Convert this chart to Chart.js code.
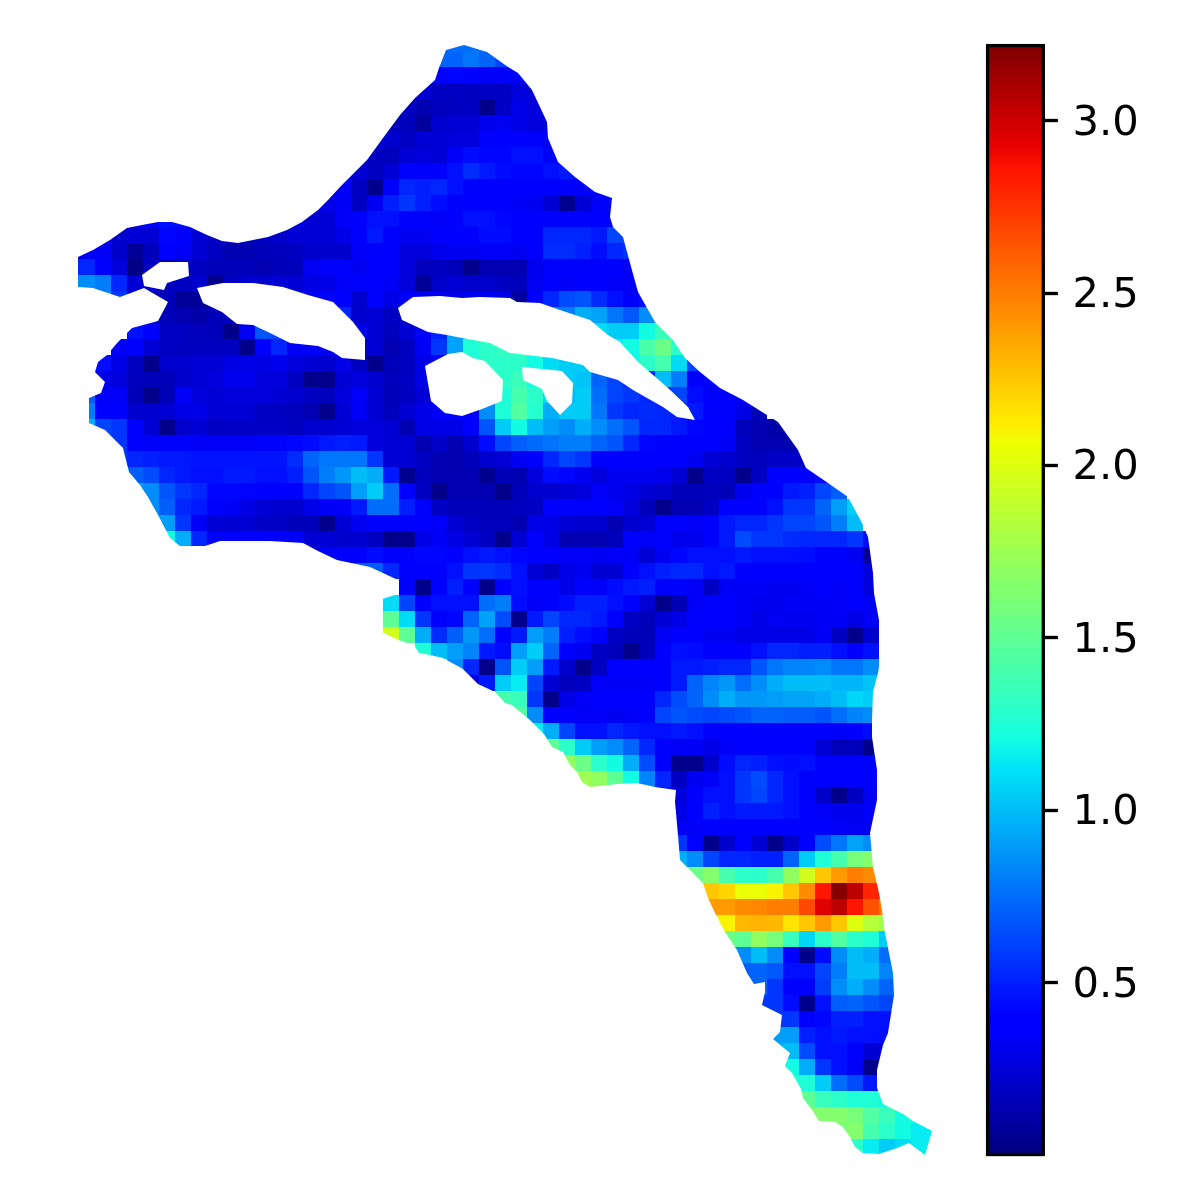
<!DOCTYPE html>
<html>
<head>
<meta charset="utf-8">
<title>Heat map</title>
<script src="https://cdn.jsdelivr.net/npm/chart.js@4"></script>
<style>
    html, body { margin: 0; background: #fff; }
    canvas { position: absolute; top: 0; }
    #map { left: 0; }
    #colorbar { left: 960px; }
</style>
</head>
<body>
<canvas id="map" width="1200" height="1200"></canvas>
<canvas id="colorbar" width="240" height="1200"></canvas>
<script>
// value range of the colour bar and its ticks
const valueMin = 0.002
const valueMax = 3.218
const tickValues = [0.5, 1.0, 1.5, 2.0, 2.5, 3.0]

// first column of every row of cells
const rowStart = [26,26,25,24,24,23,22,21,20,19,18,5,4,3,3,3,4,8,7,6,5,4,4,4,4,5,5,6,7,8,8,9,17,21,24,23,23,23,25,27,28,30,31,32,33,34,35,39,41,41,41,41,41,43,43,43,44,44,44,45,46,47,46,46,46,47,48,49,50,52]

// cell values, row by row from the top
const rowValues = [
    [.75,.75,.75,.75,.7,.6],
    [.72,.72,.78,.72,.62,.44,.34],
    [.34,.39,.42,.4,.34,.37,.34,.24,.24],
    [.24,.24,.19,.19,.18,.19,.19,.26,.24,.29,.29],
    [.19,.14,.17,.18,.19,.03,.2,.29,.26,.26,.24],
    [.17,.17,.08,.22,.24,.24,.31,.32,.29,.26,.26,.29],
    [.24,.22,.19,.24,.24,.26,.26,.37,.4,.4,.4,.34,.34],
    [.24,.19,.17,.24,.26,.24,.34,.44,.42,.42,.45,.45,.38,.38,.34],
    [.34,.24,.19,.24,.37,.37,.37,.45,.54,.48,.44,.42,.42,.45,.48,.45,.44],
    [.34,.34,.19,.04,.37,.52,.5,.52,.45,.4,.4,.4,.4,.4,.4,.4,.4,.32,.24],
    [.29,.29,.34,.19,.32,.5,.57,.5,.44,.4,.4,.38,.38,.34,.32,.24,.04,.24,.34,.36],
    [.34,.24,.31,.4,.45,.45,.37,.24,.24,.24,.24,.26,.29,.24,.24,.34,.4,.45,.45,.37,.37,.34,.37,.45,.45,.42,.4,.4,.4,.4,.4,.4,.34],
    [.34,.29,.22,.24,.24,.42,.37,.24,.19,.18,.18,.19,.21,.24,.24,.24,.29,.4,.48,.4,.32,.32,.4,.4,.4,.44,.44,.4,.4,.52,.52,.52,.48,.62,.62],
    [.29,.34,.34,.22,.07,.17,.39,.34,.24,.19,.14,.14,.16,.17,.19,.22,.22,.22,.34,.4,.37,.26,.26,.31,.32,.32,.34,.34,.32,.37,.54,.54,.5,.44,.52,.57],
    [.52,.52,.4,.26,.02,.19,.19,.19,.19,.16,.16,.16,.14,.16,.17,.32,.37,.4,.32,.4,.4,.26,.17,.18,.16,.03,.14,.14,.14,.31,.4,.4,.4,.4,.37,.34],
    [.85,.85,.8,.52,.24,.24,.19,.19,.22,.03,.18,.22,.22,.24,.24,.28,.29,.34,.37,.37,.34,.26,.07,.21,.24,.21,.21,.19,.17,.32,.37,.34,.36,.36,.34,.34,.34],
    [.85,.85,.57,.24,.17,.16,.07,.07,.17,.19,.24,.29,.29,.34,.34,.4,.4,.22,.4,.29,.38,.32,.32,.29,.31,.31,.29,.09,.36,.52,.64,.67,.54,.45,.39,.44],
    [.19,.16,.14,.12,.16,.19,.4,.4,.4,.4,.4,.4,.52,.22,.24,.19,.19,.24,.52,.8,.8,.8,.8,.8,.8,.8,.8,.95,.92,.78,.68,.85,.9],
    [.45,.37,.19,.19,.17,.16,.03,.32,.67,.62,.4,.4,.4,.44,.29,.24,.17,.24,.34,.52,.92,1,1,1,1,1,1,1.05,1.05,1.1,1.05,1.05,1.2,1.35,1.3],
    [.34,.4,.24,.19,.18,.18,.18,.18,.03,.4,.52,.34,.34,.32,.34,.24,.24,.14,.19,.34,.57,.92,1.25,1.3,1.32,1.3,1.25,1.2,1.1,1.1,1.1,1.15,1.2,1.42,1.55,1.3,.9],
    [.44,.29,.18,.03,.22,.22,.24,.24,.28,.28,.28,.31,.26,.24,.22,.29,.19,.03,.16,.18,.29,.34,.34,1.25,1.3,1.3,1.3,1.2,1.1,1.05,1.05,.95,1,1.2,1.3,1.4,1.1,.62,.44],
    [.44,.29,.26,.17,.16,.16,.22,.24,.26,.31,.31,.26,.26,.19,.03,.03,.24,.26,.22,.17,.19,.29,.29,.34,.34,1.25,1.3,1.35,1.2,1.1,1.05,1.02,.72,.62,.52,.52,1,.8,.39,.4,.4],
    [.7,.34,.34,.16,.03,.16,.34,.26,.24,.26,.26,.26,.24,.22,.19,.17,.26,.34,.24,.16,.18,.24,.34,.34,.34,1.25,1.25,1.4,1.3,1.1,1,1.05,.75,.62,.57,.52,.52,.62,.44,.4,.4,.34],
    [.8,.37,.37,.22,.22,.24,.29,.29,.24,.24,.24,.19,.19,.17,.14,.03,.24,.34,.24,.17,.24,.29,.34,.37,.4,.85,1.25,1.45,1.28,.95,1.05,1.05,.78,.57,.52,.54,.52,.5,.48,.4,.4,.29,.16],
    [.95,.62,.57,.37,.24,.03,.21,.24,.19,.2,.2,.2,.2,.18,.22,.22,.24,.26,.26,.24,.14,.29,.29,.29,.36,.67,1.05,1.2,1,.9,.85,.95,.85,.75,.67,.52,.52,.48,.42,.4,.37,.17,.14,.12,.14],
    [.62,.57,.37,.34,.37,.37,.33,.33,.33,.33,.36,.39,.42,.44,.48,.5,.48,.26,.24,.24,.14,.21,.14,.22,.44,.62,.7,.74,.77,.8,.8,.72,.67,.52,.42,.4,.4,.4,.4,.34,.19,.14,.14,.13,.14],
    [.62,.57,.52,.5,.48,.48,.46,.46,.46,.46,.46,.46,.54,.72,.78,.78,.78,.57,.24,.24,.19,.14,.13,.16,.22,.24,.32,.37,.52,.62,.57,.4,.37,.37,.4,.37,.37,.32,.24,.22,.19,.17,.2,.2,.22],
    [.75,.7,.64,.52,.48,.45,.45,.48,.48,.45,.45,.5,.67,.8,.88,1,.95,.48,.04,.17,.14,.14,.14,.04,.16,.14,.26,.44,.42,.32,.26,.32,.32,.32,.31,.24,.03,.19,.19,.03,.19,.37,.37,.4,.44],
    [.9,.85,.67,.57,.52,.42,.42,.41,.4,.4,.4,.52,.62,.67,.9,1.05,.75,.4,.19,.03,.14,.14,.14,.03,.16,.22,.22,.24,.26,.34,.31,.29,.24,.22,.16,.16,.17,.16,.31,.4,.4,.48,.5,.62,.7],
    [.85,.7,.52,.48,.4,.34,.29,.24,.22,.22,.29,.34,.34,.48,.75,.75,.5,.38,.19,.16,.16,.16,.16,.18,.19,.37,.39,.37,.37,.34,.26,.17,.03,.14,.14,.19,.37,.4,.4,.45,.57,.57,.72,.9,1.05],
    [.9,.9,.57,.34,.24,.24,.24,.2,.2,.16,.16,.03,.24,.32,.4,.4,.4,.37,.34,.24,.19,.17,.17,.14,.29,.29,.24,.22,.22,.14,.22,.24,.4,.4,.34,.4,.48,.52,.52,.57,.62,.62,.67,.8,1],
    [1.2,.95,.52,.37,.38,.37,.37,.36,.34,.24,.24,.22,.22,.19,.03,.03,.29,.34,.28,.24,.19,.03,.24,.4,.29,.14,.14,.14,.17,.39,.34,.4,.31,.31,.4,.48,.64,.57,.57,.54,.52,.52,.52,.57,.44],
    [.34,.24,.34,.37,.39,.44,.4,.39,.42,.42,.39,.45,.48,.45,.42,.4,.37,.34,.34,.32,.34,.34,.24,.32,.42,.45,.45,.45,.48,.45,.45,.45,.44,.37,.37,.32,.07],
    [.7,.7,.52,.4,.4,.36,.45,.57,.57,.54,.45,.24,.19,.29,.32,.24,.24,.4,.45,.5,.52,.52,.45,.48,.4,.4,.4,.37,.37,.37,.4,.4,.26],
    [.4,.03,.4,.5,.4,.03,.4,.45,.4,.4,.29,.37,.34,.44,.48,.5,.37,.37,.34,.19,.34,.34,.34,.32,.32,.34,.37,.34,.38,.26],
    [1.1,.62,.4,.45,.45,.45,.75,.8,.44,.34,.4,.44,.5,.5,.45,.4,.24,.03,.14,.34,.37,.37,.34,.32,.31,.34,.34,.34,.34,.4,.34],
    [1.5,1.1,.57,.4,.42,.72,.92,.64,.03,.48,.62,.52,.52,.48,.4,.19,.16,.24,.29,.4,.4,.37,.34,.29,.32,.32,.32,.34,.34,.29,.34],
    [1.95,1.5,.95,.54,.7,.88,.75,.4,.48,.9,.8,.5,.44,.4,.19,.16,.16,.32,.37,.37,.32,.32,.29,.29,.29,.29,.29,.34,.19,.03,.22],
    [1.25,1,.9,.82,.48,.44,.9,1.05,.72,.4,.32,.19,.17,.03,.17,.37,.45,.44,.37,.37,.4,.45,.52,.52,.5,.5,.45,.4,.45],
    [.85,.52,.03,.67,1.05,.9,.48,.22,.03,.19,.36,.37,.37,.39,.48,.48,.5,.52,.52,.67,.78,.82,.82,.85,.78,.78,.85],
    [.29,.48,1.05,1.15,.62,.24,.17,.19,.34,.34,.34,.34,.4,.48,.72,.82,.88,.75,.85,.95,1,1,1,.98,.98,1.02],
    [1.4,1.35,.57,.03,.29,.34,.37,.37,.37,.37,.52,.64,.72,.85,.95,.88,.88,.9,.92,.92,.95,1,1.08,1.05],
    [1.45,.85,.4,.37,.34,.34,.32,.34,.37,.62,.67,.64,.62,.64,.67,.72,.72,.7,.7,.67,.75,.82,.85],
    [1.15,.95,.62,.45,.45,.52,.48,.45,.45,.48,.45,.4,.4,.4,.37,.4,.4,.4,.4,.34,.37,.44],
    [1.5,1.3,1.05,.9,.85,.72,.52,.4,.34,.34,.29,.34,.37,.37,.37,.37,.37,.24,.16,.17,.03],
    [1.7,1.55,1.3,1.2,.95,.64,.4,.03,.03,.22,.44,.52,.5,.45,.44,.45,.4,.37,.39,.37],
    [1.75,1.7,1.5,1.2,.82,.52,.19,.32,.34,.45,.57,.64,.52,.45,.4,.4,.37,.37,.37],
    [.48,.45,.26,.37,.45,.45,.57,.62,.52,.45,.4,.21,.03,.19,.32],
    [.29,.37,.5,.45,.48,.48,.48,.45,.4,.34,.31,.31,.37],
    [.34,.34,.37,.37,.4,.4,.4,.4,.4,.37,.34,.32,.34],
    [.57,.37,.03,.22,.37,.24,.03,.21,.4,.64,.78,.92,.85,.85],
    [.95,.85,.62,.52,.52,.5,.5,.72,1.05,1.25,1.4,1.6,1.65,1.65],
    [1.55,1.55,1.65,1.4,1.3,1.3,1.4,1.7,1.95,2.25,2.4,2.5,2.45,2.4],
    [2.25,2.2,2.05,2.05,2.1,2.25,2.45,2.85,3.2,3.05,2.8,2.75],
    [2.4,2.4,2.45,2.47,2.5,2.5,2.68,2.95,3.05,2.85,2.65,2.5],
    [2,2.1,2.3,2.32,2.3,2.15,2.25,2.4,2.25,2,1.85,1.75],
    [1.55,1.5,1.7,1.6,1.35,1.08,1.3,1.45,1.3,1.25,1.05],
    [.85,.85,1,.85,.37,.03,.44,.85,1,.95,.75,.75],
    [.7,.7,.72,.68,.45,.45,.62,.8,1,1,.82,.82],
    [.72,.72,.57,.4,.4,.6,.85,.95,.85,.72,.72],
    [.57,.57,.44,.03,.45,.7,.72,.67,.62,.62],
    [.57,.57,.4,.42,.5,.5,.45,.45,.45],
    [.9,.9,.9,.5,.45,.48,.45,.45,.44,.44],
    [.95,.95,1,.64,.45,.45,.37,.24,.24],
    [1.2,1.2,1.2,.95,.57,.45,.34,.03,.03],
    [1.25,1.25,1.25,1.05,.75,.64,.48,.48],
    [1.5,1.5,1.35,1.3,1.25,1.25,1.2,1.2],
    [1.65,1.65,1.65,1.6,1.45,1.35,1.2,1.2,1.15],
    [1.6,1.6,1.65,1.4,1.3,1.2,1.15,1.15],
    [1.3,1.15,1.05,1.1,1.15,1.15]
]

// coast line of the region and the gaps inside it
const coastX = [446,464,487,508,518,532,547,548,558,575,595,612,610,613,623,630,638,655,673,685,700,720,743,778,798,806,828,848,862,868,873,874,883,878,873,872,872,877,877,870,873,879,882,885,893,894,888,883,877,877,883,903,913,932,925,909,897,879,863,855,850,843,835,819,812,803,801,792,785,790,773,780,782,762,765,765,754,747,737,725,715,708,703,688,680,678,675,676,655,637,617,590,582,577,570,563,552,544,530,512,505,495,478,463,443,430,419,414,398,382,382,398,398,370,337,318,303,270,220,205,180,170,158,148,140,129,123,105,89,89,101,105,95,98,107,118,132,158,168,144,120,93,78,78,93,110,127,142,158,172,190,207,222,238,268,287,302,318,328,340,367,383,400,415,435,439]
const coastY = [50,45,52,67,73,90,122,138,162,177,192,198,217,227,237,263,292,322,340,358,372,388,400,422,450,468,483,497,523,537,573,593,642,673,692,720,737,770,800,833,867,893,910,933,973,995,1033,1045,1070,1088,1104,1114,1121,1131,1155,1143,1148,1154,1153,1147,1137,1127,1122,1121,1110,1098,1089,1073,1066,1053,1039,1032,1015,1005,992,982,984,973,950,932,913,898,883,868,860,835,802,790,787,783,784,787,782,772,765,752,747,734,720,705,703,692,684,669,658,655,653,645,640,632,599,594,580,567,560,551,543,541,541,546,546,538,515,497,485,472,448,430,423,398,393,382,372,362,355,342,328,321,302,288,297,288,287,257,250,240,228,225,222,222,227,235,241,243,237,230,222,210,200,187,160,138,115,98,80,68]
const gapsX = [
    [142,160,188,189,167,164,144],
    [197,223,253,283,308,333,353,365,365,342,333,318,290,270,253,237,222,203],
    [398,413,440,462,480,510,517,540,560,590,608,620,638,667,688,695,677,663,647,633,618,590,583,552,527,510,490,462,447,428,402],
    [425,448,462,473,485,503,502,482,462,445,431],
    [522,562,573,572,560,547,542,523]
]
const gapsY = [
    [275,262,262,276,283,290,286],
    [288,283,283,287,295,302,322,338,360,358,352,346,343,333,325,324,312,303],
    [308,297,296,298,297,298,302,303,310,320,335,342,362,387,407,420,417,407,398,390,380,372,365,358,355,353,343,338,335,332,320],
    [366,354,352,358,361,380,401,409,416,413,401],
    [367,371,383,403,415,401,389,380]
]

// matplotlib jet, [position, r, g, b]
const jetStops = [
    [0, 0, 0, 128], [0.11, 0, 0, 255], [0.125, 0, 0, 255], [0.34, 0, 219, 246],
    [0.35, 0, 229, 246], [0.375, 20, 255, 226], [0.64, 237, 255, 0], [0.65, 247, 245, 0],
    [0.66, 255, 236, 0], [0.89, 255, 18, 0], [0.91, 232, 0, 0], [1, 128, 0, 0]
]

function jetColor(value) {
    const t = Math.min(1, Math.max(0, (value - valueMin) / (valueMax - valueMin)))
    let i = 1
    while (i < jetStops.length - 1 && jetStops[i][0] < t) i++
    const a = jetStops[i - 1]
    const b = jetStops[i]
    const k = (t - a[0]) / (b[0] - a[0])
    const mix = n => Math.round(a[n] + (b[n] - a[n]) * k)
    return `rgb(${mix(1)},${mix(2)},${mix(3)})`
}

function printMap() {
    const cellSize = 16
    const gridLeft = 15
    const gridTop = 35

    const cells = []
    const colors = []
    rowValues.forEach((values, row) => {
        values.forEach((value, i) => {
            cells.push({
                x: gridLeft + (rowStart[row] + i + 0.5) * cellSize,
                y: gridTop + (row + 0.5) * cellSize
            })
            colors.push(jetColor(value))
        })
    })

    const toPoints = (xs, ys) => xs.map((x, i) => ({ x, y: ys[i] }))
    const maskStyle = {
        showLine: true,
        fill: 'shape',
        backgroundColor: '#fff',
        borderWidth: 0,
        pointRadius: 0,
        tension: 0
    }

    // white sheet with the region cut out, coast runs against the sheet's direction
    const coast = toPoints(coastX, coastY).reverse()
    const sheet = [
        { x: 0, y: 0 }, { x: 1200, y: 0 }, { x: 1200, y: 1200 }, { x: 0, y: 1200 }, { x: 0, y: 0 },
        ...coast, coast[0], { x: 0, y: 0 }
    ]

    const gapSets = gapsX.map((xs, i) => ({ ...maskStyle, data: toPoints(xs, gapsY[i]) }))

    const data = {
        datasets: [
            { ...maskStyle, data: sheet },
            ...gapSets,
            {
                data: cells,
                pointStyle: 'rect',
                pointRadius: cellSize / 2 / Math.SQRT1_2,
                pointBorderWidth: 0,
                pointBackgroundColor: colors
            }
        ]
    }

    const options = {
        responsive: false,
        animation: false,
        events: [],
        layout: { padding: 0, autoPadding: false },
        plugins: {
            legend: { display: false },
            tooltip: { enabled: false }
        },
        scales: {
            x: { type: 'linear', min: 0, max: 1200, display: false },
            y: { type: 'linear', min: 0, max: 1200, reverse: true, display: false }
        }
    }

    new Chart('map', { type: 'scatter', data, options })
}

function printColorbar() {
    const frame = {
        id: 'frame',
        afterDraw(chart) {
            const { ctx, chartArea: a } = chart
            ctx.save()
            ctx.strokeStyle = '#000'
            ctx.lineWidth = 3.33
            ctx.strokeRect(a.left, a.top, a.right - a.left, a.bottom - a.top)
            ctx.restore()
        }
    }

    const jetGradient = ({ chart }) => {
        const a = chart.chartArea
        if (!a) return '#00f'
        const gradient = chart.ctx.createLinearGradient(0, a.bottom, 0, a.top)
        jetStops.forEach(s => gradient.addColorStop(s[0], `rgb(${s[1]},${s[2]},${s[3]})`))
        return gradient
    }

    const data = {
        labels: ['value'],
        datasets: [{
            data: [[valueMin, valueMax]],
            backgroundColor: jetGradient,
            borderWidth: 0,
            barPercentage: 1,
            categoryPercentage: 1
        }]
    }

    const options = {
        responsive: false,
        animation: false,
        events: [],
        layout: { padding: { left: 27.6, top: 45.6, bottom: 45.5, right: 0 }, autoPadding: false },
        plugins: {
            legend: { display: false },
            tooltip: { enabled: false }
        },
        scales: {
            x: { display: false },
            y: {
                position: 'right',
                min: valueMin,
                max: valueMax,
                afterBuildTicks: scale => { scale.ticks = tickValues.map(value => ({ value })) },
                afterFit: scale => { scale.width = 156.7 },
                border: { display: false },
                grid: {
                    drawOnChartArea: false,
                    tickLength: 14.6,
                    tickWidth: 3.33,
                    tickColor: '#000'
                },
                ticks: {
                    color: '#000',
                    padding: 14.6,
                    labelOffset: 3,
                    font: { family: 'DejaVu Sans', size: 41.67 },
                    callback: value => value.toFixed(1)
                }
            }
        }
    }

    new Chart('colorbar', { type: 'bar', data, options, plugins: [frame] })
}

printMap()
printColorbar()
</script>
</body>
</html>
